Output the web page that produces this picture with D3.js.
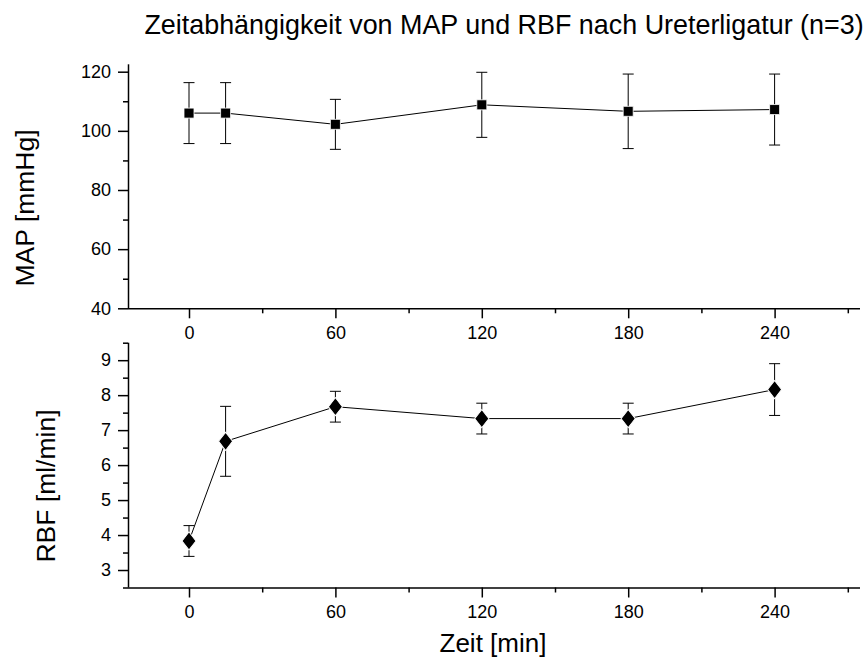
<!DOCTYPE html>
<html>
<head>
<meta charset="utf-8">
<script src="https://cdn.jsdelivr.net/npm/d3@7"></script>
<style>
  html, body { margin: 0; padding: 0; background: #fff; }
  svg { display: block; font-family: Arial, "Liberation Sans", Helvetica, sans-serif; }
</style>
</head>
<body>
<svg id="chart" width="865" height="660"></svg>
<script>
// ---- data ----
const times = [0, 15, 60, 120, 180, 240];
const mapMean = [106.0, 106.0, 102.2, 108.8, 106.6, 107.2];
const mapErr  = [10.3, 10.3, 8.45, 11.0, 12.6, 12.0];
const rbfMean = [3.83, 6.68, 7.67, 7.33, 7.33, 8.16];
const rbfErr  = [0.44, 1.0, 0.44, 0.44, 0.44, 0.74];
const xTicks = [0, 60, 120, 180, 240];
const xMinor = [30, 90, 150, 210, 270];
const mapTicks = [40, 60, 80, 100, 120];
const mapMinor = [50, 70, 90, 110];
const rbfTicks = [3, 4, 5, 6, 7, 8, 9];
const rbfMinor = [2.5, 3.5, 4.5, 5.5, 6.5, 7.5, 8.5, 9.5];
const title = "Zeitabhängigkeit von MAP und RBF nach Ureterligatur (n=3)";
const mapLabel = "MAP [mmHg]";
const rbfLabel = "RBF [ml/min]";
const xLabel = "Zeit [min]";

const svg = d3.select("#chart");
const x = d3.scaleLinear().domain([-25, 275]).range([128, 860]);
const yMap = d3.scaleLinear().domain([40, 122.5]).range([308.3, 64.3]);
const yRbf = d3.scaleLinear().domain([2.5, 9.5]).range([587.5, 342.7]);

const tickFont = "18px";

function drawPanel(y, yTicks, yMinor, mean, err, shape, yLabel, yLabelX, yLabelY) {
  const g = svg.append("g");
  const y0 = y.range()[0];
  // x axis
  const xAxis = d3.axisBottom(x).tickValues(xTicks).tickSize(10).tickPadding(8).tickFormat(d3.format("d"));
  const gx = g.append("g").attr("transform", `translate(0,${y0})`).call(xAxis);
  const xMinorAxis = d3.axisBottom(x).tickValues(xMinor).tickSize(5).tickFormat("");
  const gxm = g.append("g").attr("transform", `translate(0,${y0})`).call(xMinorAxis);
  // y axis
  const yAxis = d3.axisLeft(y).tickValues(yTicks).tickSize(10).tickPadding(7).tickFormat(d3.format("d"));
  const gy = g.append("g").attr("transform", `translate(${x.range()[0]},0)`).call(yAxis);
  const yMinorAxis = d3.axisLeft(y).tickValues(yMinor).tickSize(5).tickFormat("");
  const gym = g.append("g").attr("transform", `translate(${x.range()[0]},0)`).call(yMinorAxis);
  [gx, gxm, gy, gym].forEach(a => {
    a.selectAll(".domain").attr("stroke", "#000").attr("stroke-width", 1.5);
    a.selectAll(".tick line").attr("stroke", "#000").attr("stroke-width", 1.5);
    a.selectAll("text").attr("font-size", tickFont).attr("fill", "#000")
      .attr("font-family", "Arial, 'Liberation Sans', sans-serif");
  });
  gxm.select(".domain").remove();
  gym.select(".domain").remove();
  gx.selectAll(".domain").attr("d", `M${x.range()[0]},0.5H${x.range()[1]}`);
  gy.selectAll(".domain").attr("d", `M0.5,${y.range()[0]}V${y.range()[1]}`);

  const pts = times.map((t, i) => ({t, m: mean[i], e: err[i]}));
  // connecting line
  g.append("path").datum(pts)
    .attr("fill", "none").attr("stroke", "#000").attr("stroke-width", 1)
    .attr("d", d3.line().x(d => x(d.t)).y(d => y(d.m)));
  // error bars
  const eb = g.selectAll(".eb").data(pts).enter().append("g").attr("stroke", "#000").attr("stroke-width", 1);
  eb.append("line").attr("x1", d => x(d.t)).attr("x2", d => x(d.t))
    .attr("y1", d => y(d.m + d.e)).attr("y2", d => y(d.m - d.e));
  eb.append("line").attr("x1", d => x(d.t) - 5.5).attr("x2", d => x(d.t) + 5.5)
    .attr("y1", d => y(d.m + d.e)).attr("y2", d => y(d.m + d.e));
  eb.append("line").attr("x1", d => x(d.t) - 5.5).attr("x2", d => x(d.t) + 5.5)
    .attr("y1", d => y(d.m - d.e)).attr("y2", d => y(d.m - d.e));
  // markers
  const sym = d3.symbol().type(shape === "square" ? d3.symbolSquare : d3.symbolDiamond)
    .size(shape === "square" ? 100 : 95);
  g.selectAll(".mk").data(pts).enter().append("path")
    .attr("transform", d => `translate(${x(d.t)},${y(d.m)})` + (shape === "square" ? "" : " scale(1.35,1)"))
    .attr("d", sym).attr("fill", "#000").attr("stroke", "#fff").attr("stroke-width", 0.8);
  // y label
  svg.append("text").attr("transform", `translate(${yLabelX},${yLabelY}) rotate(-90)`)
    .attr("text-anchor", "middle").attr("font-size", "26.5px").attr("fill", "#000").text(yLabel);
}

drawPanel(yMap, mapTicks, mapMinor, mapMean, mapErr, "square", mapLabel, 34, 208);
drawPanel(yRbf, rbfTicks, rbfMinor, rbfMean, rbfErr, "diamond", rbfLabel, 55, 486);

svg.append("text").attr("x", 504).attr("y", 34).attr("text-anchor", "middle")
  .attr("font-size", "26.9px").attr("fill", "#000").text(title);
svg.append("text").attr("x", 493).attr("y", 652).attr("text-anchor", "middle")
  .attr("font-size", "26px").attr("fill", "#000").text(xLabel);
</script>
</body>
</html>
